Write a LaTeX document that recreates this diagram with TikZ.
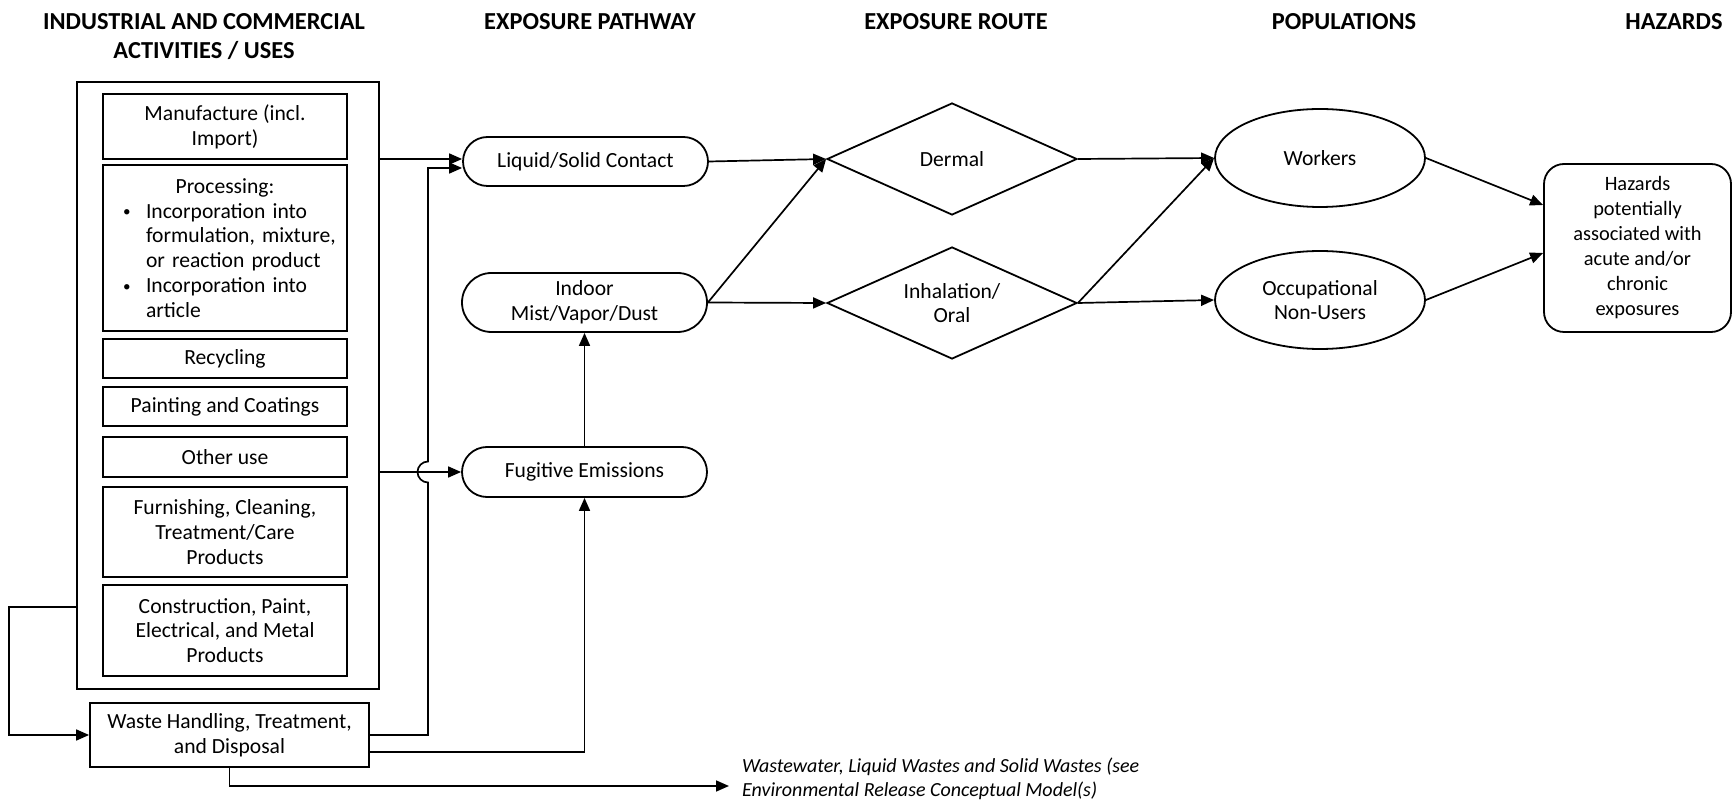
\documentclass[tikz,border=0pt]{standalone}
\usepackage{fontspec}
\setmainfont{Carlito}
\usetikzlibrary{arrows.meta,shapes.geometric,shapes.misc,calc}

\newcommand{\itembullet}{\noindent\hspace*{-11.5pt}\makebox[11.5pt][l]{\raisebox{0.6pt}{\scalebox{0.7}{\textbullet}}}}

\begin{document}
\begin{tikzpicture}[x=0.5pt,y=-0.5pt,
  txt/.style={font=\fontsize{10.8}{12.4}\selectfont, align=center},
  head/.style={font=\bfseries\fontsize{12.2}{14.5}\selectfont, align=center},
  box/.style={txt, draw, line width=0.9pt, inner sep=0pt, minimum width=122pt},
  pill/.style={txt, draw, line width=0.9pt, rounded rectangle, inner sep=0pt, minimum width=122.5pt},
  route/.style={txt, draw, diamond, line width=0.9pt, inner sep=-12pt, minimum width=125pt, minimum height=56pt},
  pop/.style={txt, draw, ellipse, line width=0.9pt, inner sep=0pt, minimum width=105pt, minimum height=49pt},
  link/.style={line width=0.85pt, -{Triangle[length=6.5pt,width=5.5pt]}},
  wire/.style={line width=0.85pt}
]
\useasboundingbox (0,0) rectangle (1733,801);

% column headings
\node[head] (h1) at (204,37) {INDUSTRIAL AND COMMERCIAL\\ACTIVITIES / USES};
\node[head] (h2) at (590,22) {EXPOSURE PATHWAY};
\node[head] (h3) at (956,22) {EXPOSURE ROUTE};
\node[head] (h4) at (1344,22) {POPULATIONS};
\node[head] (h5) at (1674,22) {HAZARDS};

% activities / uses
\node[draw, line width=1pt, minimum width=151pt, minimum height=303.5pt, inner sep=0pt] (uses) at (228,385.5) {};
\node[box, minimum height=32.5pt] (manu) at (225,126.5) {Manufacture (incl.\\Import)};
\node[box, minimum height=83pt, text width=122pt, align=left] (proc) at (225,248)
  {{\centering Processing:\par}
   \raggedright\leftskip=21.5pt
   \itembullet Incorporation into\newline formulation, mixture,\newline or reaction product\par
   \itembullet Incorporation into\newline article\par};
\node[box, minimum height=19.5pt] (recyc) at (225,358.5) {Recycling};
\node[box, minimum height=19.5pt] (paint) at (225,406.5) {Painting and Coatings};
\node[box, minimum height=20pt] (other) at (225,457) {Other use};
\node[box, minimum height=45pt] (furn) at (225,532) {Furnishing, Cleaning,\\Treatment/Care\\Products};
\node[box, minimum height=45.5pt] (constr) at (225,630.5) {Construction, Paint,\\Electrical, and Metal\\Products};
\node[box, minimum width=139.5pt, minimum height=32pt] (waste) at (229.5,735) {Waste Handling, Treatment,\\and Disposal};

% exposure pathways
\node[pill, minimum height=24.5pt] (liq) at (585.5,161.5) {Liquid/Solid Contact};
\node[pill, minimum height=29.5pt] (indoor) at (584.5,302.5) {Indoor\\Mist/Vapor/Dust};
\node[pill, minimum height=25pt] (fug) at (584.5,472) {Fugitive Emissions};

% exposure routes
\node[route] (dermal) at (952,159) {Dermal};
\node[route] (inhal) at (952,303) {Inhalation/\\Oral};

% populations
\node[pop] (workers) at (1320,158) {Workers};
\node[pop] (occ) at (1320,300) {Occupational\\Non-Users};

% hazards
\node[draw, line width=0.9pt, rounded corners=10pt, minimum width=93.5pt, minimum height=84pt, inner sep=0pt,
      align=center, font=\fontsize{10.2}{12.5}\selectfont] (haz) at (1637.5,248)
  {Hazards\\potentially\\associated with\\acute and/or\\chronic\\exposures};

% release note
\coordinate (wwend) at (729,786);
\node[anchor=west, align=left, font=\itshape\fontsize{10}{12}\selectfont] (ww) at (735,779)
  {Wastewater, Liquid Wastes and Solid Wastes (see\\Environmental Release Conceptual Model(s)};

% connectors: uses to pathways
\draw[link] (uses.east |- 0,159) -- (liq.west |- 0,159);
\draw[link] (uses.east |- fug.west) -- (fug.west);
\draw[link] (uses.west |- 0,607) -- (9,607) |- (waste.west);
\draw[link] (waste.east) -- (428,735) -- (428,482.5)
  arc[start angle=90, end angle=270, radius=10.5] -- (428,168) -- (liq.west |- 0,168);
\draw[link] ($(waste.east)+(0,17)$) -| (fug.south);
\draw[link] (waste.south) |- (wwend);
\draw[link] (fug.north) -- (indoor.south);

% pathways to routes
\draw[link] (liq.east) -- (dermal.west);
\draw[link] (indoor.east) -- (dermal.west);
\draw[link] (indoor.east) -- (inhal.west);

% routes to populations
\draw[link] (dermal.east) -- (workers.west);
\draw[link] (inhal.east) -- (workers.west);
\draw[link] (inhal.east) -- (occ.west);

% populations to hazards
\draw[link] (workers.east) -- (haz.west |- 0,205);
\draw[link] (occ.east) -- (haz.west |- 0,253);
\end{tikzpicture}
\end{document}
